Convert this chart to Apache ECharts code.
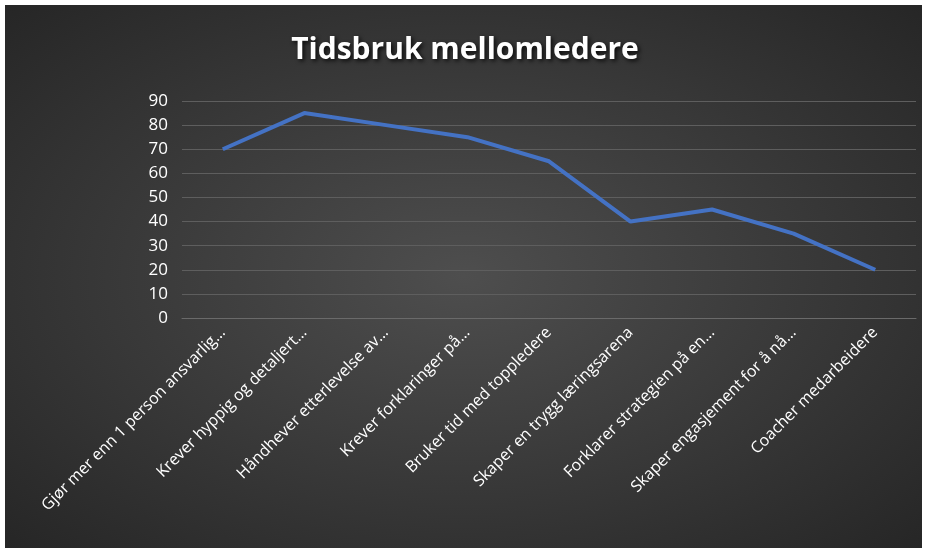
<!DOCTYPE html>
<html><head><meta charset="utf-8">
<script src="https://cdn.jsdelivr.net/npm/echarts@6/dist/echarts.min.js"></script>
<style>
html,body{margin:0;padding:0;background:#fff;}
#bg{position:absolute;left:5px;top:5px;width:917px;height:543px;background:radial-gradient(ellipse at center,#4e4e4e 0%,#3a3a3a 50%,#262626 100%);}
#c{position:absolute;left:0;top:0;width:930px;height:557px;}
</style></head><body>
<div id="bg"></div><div id="c"></div>
<script>
const categories=["Gjør mer enn 1 person ansvarlig…","Krever hyppig og detaljert…","Håndhever etterlevelse av…","Krever forklaringer på…","Bruker tid med toppledere","Skaper en trygg læringsarena","Forklarer strategien på en…","Skaper engasjement for å nå…","Coacher medarbeidere"];
const values=[70,85,80,75,65,40,45,35,20];
const yTicks={min:0,max:90,interval:10};
const chart=echarts.init(document.getElementById('c'));
chart.setOption({
 backgroundColor:'transparent',
 title:{text:'Tidsbruk mellomledere',left:'center',top:30,textStyle:{color:'#fff',fontSize:30,fontWeight:'bold',fontFamily:'Open Sans',textShadowColor:'rgba(0,0,0,0.8)',textShadowBlur:4,textShadowOffsetX:2,textShadowOffsetY:2}},
 grid:{left:182,right:14,top:101,bottom:239},
 xAxis:{type:'category',data:categories,boundaryGap:true,
  axisLine:{lineStyle:{color:'#6a6a6a'}},axisTick:{show:false},
  axisLabel:{color:'#fff',fontSize:16,rotate:45,interval:0,margin:12,fontFamily:'Open Sans'}},
 yAxis:{type:'value',min:yTicks.min,max:yTicks.max,interval:yTicks.interval,
  axisLabel:{color:'#fff',fontSize:17,margin:14,fontFamily:'Open Sans'},
  splitLine:{lineStyle:{color:'#5e5e5e'}},axisLine:{show:false}},
 series:[{type:'line',data:values,symbol:'circle',symbolSize:1,showSymbol:true,itemStyle:{opacity:0},
  lineStyle:{color:'#4472C4',width:4},
  label:{show:true,position:'inside',color:'#fff',fontSize:17,fontFamily:'Open Sans'}}]
});
</script></body></html>
